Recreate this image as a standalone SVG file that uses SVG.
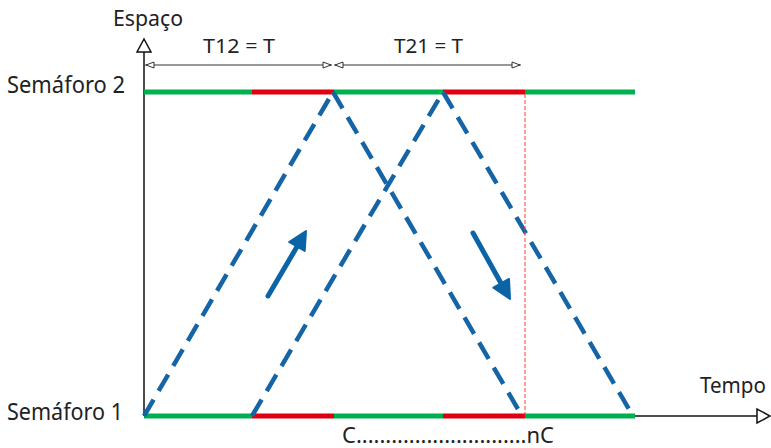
<svg xmlns="http://www.w3.org/2000/svg" width="771" height="448" viewBox="0 0 771 448">
<style>
.lbl{font-family:"Noto Sans","Open Sans",sans-serif;fill:#222;}
.g{stroke:#00b050;stroke-width:5;fill:none;}
.r{stroke:#e0000f;stroke-width:5;fill:none;}
.dash{stroke:#1565a6;stroke-width:4.5;stroke-dasharray:19 10;fill:none;}
.axis{stroke:#111;stroke-width:1.5;fill:none;}
.dim{stroke:#333;stroke-width:1;fill:none;}
.ar{stroke:#0a64a6;stroke-width:5;stroke-linecap:round;fill:none;}
</style>
<defs>
<marker id="dimEnd" viewBox="0 0 10 8" refX="10" refY="4" markerWidth="10" markerHeight="8" markerUnits="userSpaceOnUse" orient="auto">
<path d="M1,1 L9,4 L1,7 Z" fill="#fff" stroke="#333" stroke-width="1"/>
</marker>
<marker id="dimStart" viewBox="0 0 10 8" refX="0" refY="4" markerWidth="10" markerHeight="8" markerUnits="userSpaceOnUse" orient="auto">
<path d="M9,1 L1,4 L9,7 Z" fill="#fff" stroke="#333" stroke-width="1"/>
</marker>
</defs>
<g id="axes">
<line class="axis" x1="144" y1="416" x2="144" y2="52"/>
<path d="M137,52 L151,52 L144,39 Z" fill="#fff" stroke="#111" stroke-width="1.5"/>
<line class="axis" x1="144" y1="416" x2="757" y2="416"/>
<path d="M757,409 L757,423 L770,416 Z" fill="#fff" stroke="#111" stroke-width="1.5"/>
</g>
<g id="semaforo2">
<line class="g" x1="144" y1="92" x2="252" y2="92"/>
<line class="r" x1="252" y1="92" x2="334" y2="92"/>
<line class="g" x1="334" y1="92" x2="443" y2="92"/>
<line class="r" x1="443" y1="92" x2="525" y2="92"/>
<line class="g" x1="525" y1="92" x2="635" y2="92"/>
</g>
<g id="semaforo1">
<line class="g" x1="144" y1="416" x2="252" y2="416"/>
<line class="r" x1="252" y1="416" x2="334" y2="416"/>
<line class="g" x1="334" y1="416" x2="443" y2="416"/>
<line class="r" x1="443" y1="416" x2="525" y2="416"/>
<line class="g" x1="525" y1="416" x2="635" y2="416"/>
</g>
<g id="connectors">
<line class="dash" x1="144" y1="416" x2="333" y2="92"/>
<line class="dash" x1="333" y1="92" x2="522" y2="416"/>
<line class="dash" x1="252" y1="416" x2="443" y2="92"/>
<line class="dash" x1="443" y1="92" x2="633" y2="416"/>
<line x1="525" y1="94" x2="525" y2="414" stroke="#ff3b3b" stroke-width="1" stroke-dasharray="4 2"/>
<line class="dim" x1="145" y1="65" x2="332" y2="65" marker-start="url(#dimStart)" marker-end="url(#dimEnd)"/>
<line class="dim" x1="334" y1="65" x2="521" y2="65" marker-start="url(#dimStart)" marker-end="url(#dimEnd)"/>
<line class="ar" x1="268" y1="296" x2="298" y2="245"/>
<path d="M306,231 L304.7,251 L289.1,242 Z" fill="#0a64a6" stroke="#0a64a6" stroke-width="2" stroke-linejoin="round"/>
<line class="ar" x1="473" y1="233" x2="502" y2="285"/>
<path d="M510,299 L509,278.9 L493.4,287.7 Z" fill="#0a64a6" stroke="#0a64a6" stroke-width="2" stroke-linejoin="round"/>
</g>
<g id="labels">
<text class="lbl" x="113" y="26" font-size="22" textLength="70" lengthAdjust="spacingAndGlyphs">Espaço</text>
<text class="lbl" x="7" y="93" font-size="23" textLength="118" lengthAdjust="spacingAndGlyphs">Semáforo 2</text>
<text class="lbl" x="7" y="420" font-size="23" textLength="116" lengthAdjust="spacingAndGlyphs">Semáforo 1</text>
<text class="lbl" x="700" y="393" font-size="22" textLength="66" lengthAdjust="spacingAndGlyphs">Tempo</text>
<text class="lbl" x="203" y="53" font-size="20" textLength="72" lengthAdjust="spacingAndGlyphs">T12 = T</text>
<text class="lbl" x="394" y="53" font-size="20" textLength="69" lengthAdjust="spacingAndGlyphs">T21 = T</text>
<text class="lbl" x="342" y="443" font-size="22" textLength="212" lengthAdjust="spacing">C.............................nC</text>
</g>
</svg>
